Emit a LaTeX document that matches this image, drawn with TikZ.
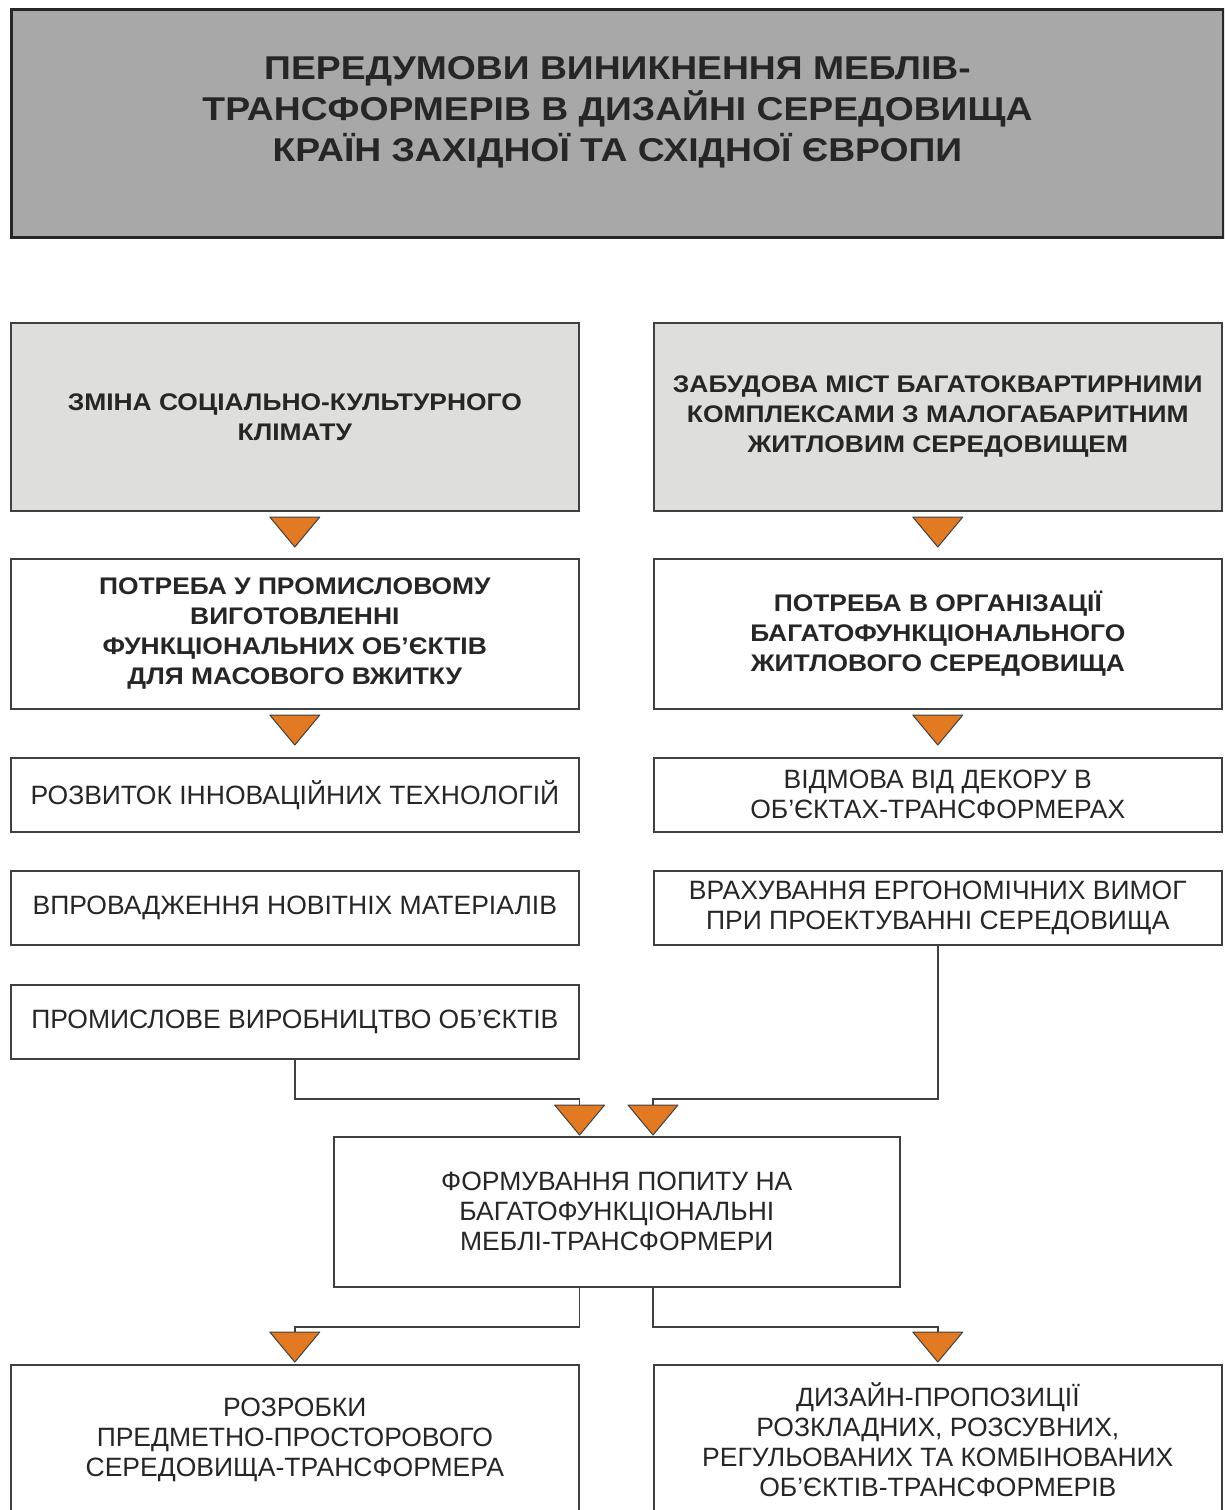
\documentclass[tikz,border=0pt]{standalone}
\usepackage{fontspec}
\setmainfont{Liberation Sans}
\newfontfamily\widebold[FakeStretch=1.10]{Liberation Sans Bold}
\newfontfamily\widetitle[FakeStretch=1.13]{Liberation Sans Bold}
\definecolor{titlegray}{RGB}{168,168,168}
\definecolor{softgray}{RGB}{222,222,220}
\definecolor{boxline}{RGB}{64,64,64}
\definecolor{triorange}{RGB}{226,122,36}
\begin{document}
\begin{tikzpicture}[x=1pt,y=-1pt,
  box/.style={draw=boxline, line width=1.6pt, rectangle, inner sep=0pt, align=center,
    anchor=north west, minimum width=568pt, fill=white, text=black!85,
    font=\fontsize{26.5}{30}\selectfont},
  boldbox/.style={box, font=\fontsize{24}{30}\widebold\selectfont},
  graybox/.style={boldbox, fill=softgray},
  titlebox/.style={draw=black!85, line width=3pt, fill=titlegray, rectangle, anchor=north west,
    minimum width=1212pt, minimum height=228pt, inner sep=0pt},
  titletext/.style={font=\fontsize{33}{41}\widetitle\selectfont, align=center, text=black!85},
  conn/.style={draw=boxline, line width=1.4pt},
  downtri/.pic={\draw[draw=black!75, line width=1pt, fill=triorange, line join=round]
      (-25,0) -- (25,0) -- (0,30) -- cycle;}
]
\useasboundingbox (0,0) rectangle (1224,1510);
\clip (0,0) rectangle (1224,1510);

% title
\node[titlebox, label={[titletext, yshift=11pt]center:{ПЕРЕДУМОВИ ВИНИКНЕННЯ МЕБЛІВ-\\ТРАНСФОРМЕРІВ В ДИЗАЙНІ СЕРЕДОВИЩА\\КРАЇН ЗАХІДНОЇ ТА СХІДНОЇ ЄВРОПИ}}] (title) at (10,8) {};

% row 1
\node[graybox, minimum height=188pt] (L1) at (10,322) {ЗМІНА СОЦІАЛЬНО-КУЛЬТУРНОГО\\КЛІМАТУ};
\node[graybox, minimum height=188pt] (R1) at (653,322) {ЗАБУДОВА МІСТ БАГАТОКВАРТИРНИМИ\\КОМПЛЕКСАМИ З МАЛОГАБАРИТНИМ\\ЖИТЛОВИМ СЕРЕДОВИЩЕМ};

% row 2
\node[boldbox, minimum height=150pt] (L2) at (10,558) {ПОТРЕБА У ПРОМИСЛОВОМУ\\ВИГОТОВЛЕННІ\\ФУНКЦІОНАЛЬНИХ ОБ’ЄКТІВ\\ДЛЯ МАСОВОГО ВЖИТКУ};
\node[boldbox, minimum height=150pt] (R2) at (653,558) {ПОТРЕБА В ОРГАНІЗАЦІЇ\\БАГАТОФУНКЦІОНАЛЬНОГО\\ЖИТЛОВОГО СЕРЕДОВИЩА};

% rows 3-5
\node[box, minimum height=74pt] (L3) at (10,757) {РОЗВИТОК ІННОВАЦІЙНИХ ТЕХНОЛОГІЙ};
\node[box, minimum height=74pt] (R3) at (653,757) {ВІДМОВА ВІД ДЕКОРУ В\\ОБ’ЄКТАХ-ТРАНСФОРМЕРАХ};
\node[box, minimum height=74pt] (L4) at (10,870) {ВПРОВАДЖЕННЯ НОВІТНІХ МАТЕРІАЛІВ};
\node[box, minimum height=74pt] (R4) at (653,870) {ВРАХУВАННЯ ЕРГОНОМІЧНИХ ВИМОГ\\ПРИ ПРОЕКТУВАННІ СЕРЕДОВИЩА};
\node[box, minimum height=74pt] (L5) at (10,984) {ПРОМИСЛОВЕ ВИРОБНИЦТВО ОБ’ЄКТІВ};

% centre
\node[box, minimum width=566pt, minimum height=150pt] (C) at (333,1136) {ФОРМУВАННЯ ПОПИТУ НА\\БАГАТОФУНКЦІОНАЛЬНІ\\МЕБЛІ-ТРАНСФОРМЕРИ};

% bottom
\node[box, minimum height=150pt] (B1) at (10,1364) {РОЗРОБКИ\\ПРЕДМЕТНО-ПРОСТОРОВОГО\\СЕРЕДОВИЩА-ТРАНСФОРМЕРА};
\node[box, minimum height=150pt] (B2) at (653,1364) {ДИЗАЙН-ПРОПОЗИЦІЇ\\РОЗКЛАДНИХ, РОЗСУВНИХ,\\РЕГУЛЬОВАНИХ ТА КОМБІНОВАНИХ\\ОБ’ЄКТІВ-ТРАНСФОРМЕРІВ};

% triangles between rows
\pic at (L1.south |- 0,517) {downtri};
\pic at (R1.south |- 0,517) {downtri};
\pic at (L2.south |- 0,715) {downtri};
\pic at (R2.south |- 0,715) {downtri};

% merge into centre
\coordinate (jl) at (L5.south |- 0,1099);
\coordinate (jr) at (R4.south |- 0,1099);
\coordinate (t1) at (L5.east |- 0,1105);
\coordinate (t2) at (R4.west |- 0,1105);
\draw[conn] (L5.south) -- (jl) -| (t1);
\draw[conn] (R4.south) -- (jr) -| (t2);
\pic at (t1) {downtri};
\pic at (t2) {downtri};

% split from centre
\coordinate (s1) at (C.south -| L1.east);
\coordinate (s2) at (C.south -| R1.west);
\coordinate (u1) at (B1.north |- 0,1332);
\coordinate (u2) at (B2.north |- 0,1332);
\draw[conn] (s1) |- (0,1327 -| u1) -- (u1);
\draw[conn] (s2) |- (0,1327 -| u2) -- (u2);
\pic at (u1) {downtri};
\pic at (u2) {downtri};
\end{tikzpicture}
\end{document}
